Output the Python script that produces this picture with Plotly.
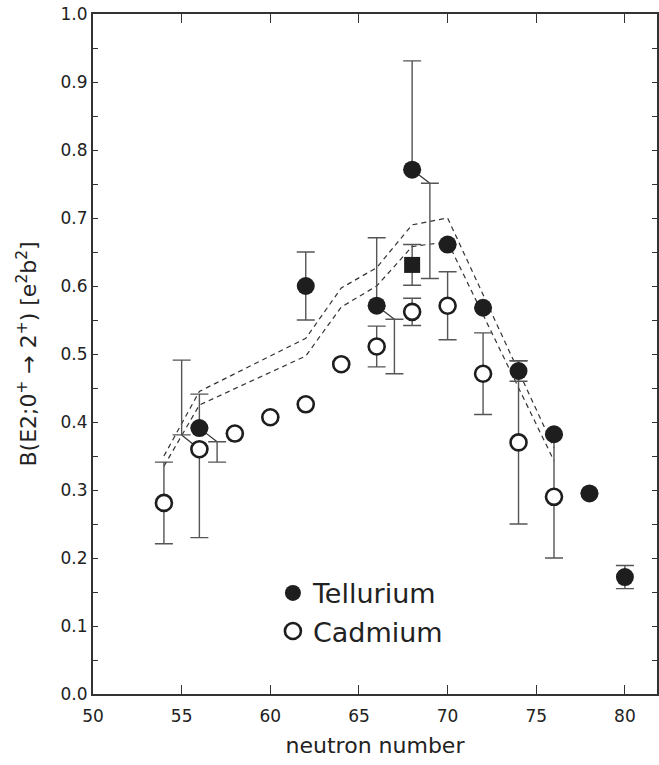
import plotly.graph_objects as go

# ---------------- data ----------------
te_n = [56, 62, 66, 68, 70, 72, 74, 76, 78, 80]
te_b = [0.391, 0.600, 0.571, 0.771, 0.661, 0.568, 0.475, 0.382, 0.295, 0.172]
te_err_up = [0.05, 0.05, 0.10, 0.16, 0.0, 0.0, 0.015, 0.0, 0.0, 0.017]
te_err_dn = [0.0, 0.05, 0.0, 0.0, 0.0, 0.0, 0.015, 0.0, 0.0, 0.017]

te_sq_n = [68]
te_sq_b = [0.631]
te_sq_err = [0.03]

cd_n = [54, 56, 58, 60, 62, 64, 66, 68, 70, 72, 74, 76]
cd_b = [0.281, 0.360, 0.383, 0.407, 0.426, 0.485, 0.511, 0.562, 0.571, 0.471, 0.370, 0.290]
cd_err_up = [0.06, 0.0, 0.0, 0.0, 0.0, 0.0, 0.03, 0.02, 0.05, 0.06, 0.12, 0.09]
cd_err_dn = [0.06, 0.13, 0.0, 0.0, 0.0, 0.0, 0.03, 0.02, 0.05, 0.06, 0.12, 0.09]

# displaced error bars (drawn beside the point with a short connector)
off_n = [56, 66, 68, 56]
off_b = [0.391, 0.571, 0.771, 0.360]
off_dx = [1, 1, 1, -1]
off_knee = [0.371, 0.551, 0.751, 0.381]
off_end = [0.341, 0.471, 0.611, 0.491]

# theory band (dashed)
th_n = [54, 56, 62, 64, 66, 68, 70, 76]
th_upper = [0.350, 0.445, 0.523, 0.597, 0.627, 0.690, 0.700, 0.362]
th_lower = [0.335, 0.425, 0.497, 0.569, 0.600, 0.658, 0.665, 0.343]

x_ticks = [50, 55, 60, 65, 70, 75, 80]
y_ticks = [0.0, 0.1, 0.2, 0.3, 0.4, 0.5, 0.6, 0.7, 0.8, 0.9, 1.0]

FONT = "DejaVu Sans"
INK = "#1e1e1e"
BAR = "#555555"
AX = "#333333"

fig = go.Figure()

# dashed theory lines
for ys in (th_upper, th_lower):
    fig.add_trace(go.Scatter(x=th_n, y=ys, mode="lines", showlegend=False,
                             line=dict(color=AX, width=1.2, dash="5px,4px"),
                             hoverinfo="skip"))

# connectors of displaced error bars
cx, cy = [], []
for n, b, dx, k in zip(off_n, off_b, off_dx, off_knee):
    cx += [n, n + dx, None]
    cy += [b, k, None]
fig.add_trace(go.Scatter(x=cx, y=cy, mode="lines", showlegend=False,
                         line=dict(color=AX, width=1.2), hoverinfo="skip"))

# displaced vertical error bars with caps
ox = [n + dx for n, dx in zip(off_n, off_dx)]
oup = [max(e - k, 0) for e, k in zip(off_end, off_knee)]
odn = [max(k - e, 0) for e, k in zip(off_end, off_knee)]
fig.add_trace(go.Scatter(x=ox, y=off_knee, mode="markers", showlegend=False,
                         marker=dict(size=1, color="rgba(0,0,0,0)"),
                         error_y=dict(type="data", symmetric=False, array=oup, arrayminus=odn,
                                      color=BAR, thickness=1.4, width=9),
                         hoverinfo="skip"))

# Cadmium circles
fig.add_trace(go.Scatter(x=cd_n, y=cd_b, mode="markers", name="Cadmium",
                         legendrank=2,
                         marker=dict(symbol="circle", size=16, color="white",
                                     line=dict(color=INK, width=2.6)),
                         error_y=dict(type="data", symmetric=False, array=cd_err_up,
                                      arrayminus=cd_err_dn, color=BAR,
                                      thickness=1.4, width=9)))

# Tellurium square
fig.add_trace(go.Scatter(x=te_sq_n, y=te_sq_b, mode="markers", showlegend=False,
                         marker=dict(symbol="square", size=16, color=INK),
                         error_y=dict(type="data", array=te_sq_err, color=BAR,
                                      thickness=1.4, width=9)))

# Tellurium circles
fig.add_trace(go.Scatter(x=te_n, y=te_b, mode="markers", name="Tellurium",
                         legendrank=1,
                         marker=dict(symbol="circle", size=18, color=INK),
                         error_y=dict(type="data", symmetric=False, array=te_err_up,
                                      arrayminus=te_err_dn, color=BAR,
                                      thickness=1.4, width=9)))

fig.update_xaxes(range=[50, 81.81], tickvals=x_ticks, ticks="inside", ticklen=9, tickwidth=1.2,
                 tickcolor=AX, showline=True, linecolor=AX, linewidth=2, mirror="allticks",
                 showgrid=False, zeroline=False, automargin=False, ticklabelstandoff=6,
                 tickfont=dict(family=FONT, size=17, color="#222222"),
                 title=dict(text="neutron number", font=dict(family=FONT, size=22, color="#222222"),
                            standoff=12))
fig.update_yaxes(range=[0, 1], tickvals=y_ticks, ticktext=[f"{v:.1f}" for v in y_ticks],
                 ticks="inside", ticklen=5, tickwidth=1.2, tickcolor=AX,
                 showline=True, linecolor=AX, linewidth=2, mirror="allticks",
                 showgrid=False, zeroline=False, automargin=False,
                 tickfont=dict(family=FONT, size=17, color="#222222"),
                 minor=dict(dtick=0.05, ticks="inside", ticklen=5, tickcolor=AX, tickwidth=1.2),
                 title=dict(text="B(E2;0<sup>+</sup> → 2<sup>+</sup>) [e<sup>2</sup>b<sup>2</sup>]",
                            font=dict(family=FONT, size=22, color="#222222"), standoff=18))

fig.update_layout(
    width=659, height=765, autosize=False,
    margin=dict(l=93, r=2, t=14, b=71, autoexpand=False),
    paper_bgcolor="white", plot_bgcolor="white",
    showlegend=True,
    legend=dict(x=0.319, y=0.184, xanchor="left", yanchor="top",
                font=dict(family=FONT, size=27, color="#222222"),
                bgcolor="rgba(0,0,0,0)", itemsizing="trace", tracegroupgap=0),
    font=dict(family=FONT),
)

post = ("document.documentElement.style.margin='0';document.documentElement.style.overflow='hidden';"
        "document.body.style.margin='0';document.body.style.padding='0';document.body.style.overflow='hidden';"
        "var gd=document.getElementById('{plot_id}');"
        "Plotly.relayout(gd,{width:659,height:765});")

fig.write_html("out.html", config={"responsive": False, "displayModeBar": False},
               post_script=post)
